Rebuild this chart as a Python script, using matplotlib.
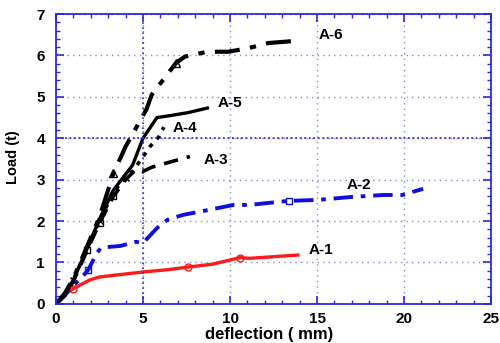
import matplotlib.pyplot as plt
from matplotlib.ticker import MultipleLocator

plt.rcParams['font.family'] = ['Liberation Sans', 'DejaVu Sans']
plt.rcParams['font.weight'] = 'bold'

# load-deflection curves per specimen
a1_x = [0, 0.3, 0.6, 1.0, 1.4, 1.95, 2.5, 3.5, 5.0, 6.5, 7.6, 9.0, 10.0, 10.6, 11.1, 12.5, 13.9]
a1_y = [0, 0.12, 0.27, 0.37, 0.46, 0.58, 0.65, 0.7, 0.77, 0.83, 0.89, 0.96, 1.06, 1.12, 1.1, 1.14, 1.18]

a2_x = [0, 0.5, 1.0, 1.5, 1.85, 2.35, 2.6, 3.7, 4.6, 5.0, 5.8, 6.4, 7.3, 8.3, 10.2, 11.1, 13.4, 15.0, 16.9, 18.8, 19.9, 21.1]
a2_y = [0, 0.2, 0.45, 0.65, 0.82, 1.23, 1.36, 1.4, 1.5, 1.47, 1.83, 2.03, 2.15, 2.23, 2.39, 2.39, 2.49, 2.51, 2.58, 2.63, 2.63, 2.78]

a3_x = [0, 0.5, 1.0, 1.8, 2.5, 3.3, 4.0, 4.6, 5.0, 5.5, 6.5, 7.7]
a3_y = [0, 0.2, 0.55, 1.3, 1.95, 2.6, 3.0, 3.25, 3.2, 3.3, 3.42, 3.56]

a4_x = [0, 0.5, 1.0, 1.8, 2.5, 3.3, 4.0, 4.4, 5.0, 5.4, 5.9, 6.2]
a4_y = [0, 0.22, 0.58, 1.35, 2.0, 2.7, 3.05, 3.2, 3.55, 3.8, 4.03, 4.27]

a5_x = [0, 0.5, 1.0, 1.8, 2.5, 3.3, 4.4, 5.0, 5.8, 6.6, 7.6, 8.7]
a5_y = [0, 0.22, 0.58, 1.35, 2.05, 2.75, 3.35, 4.0, 4.5, 4.55, 4.62, 4.73]

a6_x = [0, 0.5, 1.0, 1.8, 2.5, 3.3, 4.0, 4.4, 5.2, 5.5, 6.5, 6.9, 7.4, 7.7, 8.7, 9.9, 11.1, 12.2, 13.7]
a6_y = [0, 0.25, 0.62, 1.4, 2.1, 3.15, 3.8, 4.1, 4.7, 5.05, 5.6, 5.82, 5.97, 6.0, 6.09, 6.09, 6.18, 6.3, 6.35]

labels = ['A-1', 'A-2', 'A-3', 'A-4', 'A-5', 'A-6']
label_pos = [(14.5, 1.3), (16.7, 2.87), (8.5, 3.48), (6.7, 4.25), (9.3, 4.85), (15.1, 6.5)]

fig = plt.figure(figsize=(5, 3.43), dpi=100)
ax = fig.add_axes([0.112, 0.114, 0.87, 0.845])

ax.plot(a1_x, a1_y, color='#ff1a1a', lw=2.4, marker='o', mfc='none', ms=5, markevery=[3, 10, 13])
ax.plot(a2_x, a2_y, color='#1010dd', lw=2.8, ls=(0, (5, 2, 1.2, 2)), marker='s', mfc='none', ms=5, markevery=[4, 16])
ax.plot(a3_x, a3_y, color='black', lw=2.6, ls=(0, (4, 2.5)), marker='s', mfc='none', ms=4, markevery=[3, 4, 5])
ax.plot(a4_x, a4_y, color='black', lw=2.6, ls=(0, (1.2, 1.8)), marker='x', ms=5, markevery=[2, 4, 6])
ax.plot(a5_x, a5_y, color='black', lw=2.4)
ax.plot(a6_x, a6_y, color='black', lw=3.0, ls=(0, (6, 2.5, 1.5, 2.5)), marker='^', mfc='none', ms=6, markevery=[5, 11])

for lab, (lx, ly) in zip(labels, label_pos):
    ax.text(lx, ly, lab, fontsize=11, fontweight='bold', va='center')

ax.set_xlim(0, 25)
ax.set_ylim(0, 7)
ax.xaxis.set_major_locator(MultipleLocator(5))
ax.xaxis.set_minor_locator(MultipleLocator(1))
ax.yaxis.set_major_locator(MultipleLocator(1))
ax.yaxis.set_minor_locator(MultipleLocator(0.2))
ax.tick_params(which='both', direction='in', top=True, right=True, colors='#2a2ae0', labelcolor='black', labelsize=11)
ax.tick_params(which='major', length=6, width=1.2)
ax.tick_params(which='minor', length=3, width=1)
ax.tick_params(axis='x', pad=6)
ax.tick_params(axis='y', pad=8)
for s in ax.spines.values():
    s.set_color('#2a2ae0')
    s.set_linewidth(1.3)

ax.grid(True, which='major', color='#8888dd', ls=(0, (1, 3)), lw=1)
ax.axvline(5, color='#3030e0', ls=(0, (1, 2)), lw=1.2)
ax.axhline(4, color='#3030e0', ls=(0, (1, 1.5)), lw=1.3)

ax.set_xlabel('deflection ( mm)', fontsize=12, fontweight='bold')
ax.xaxis.set_label_coords(0.49, -0.08)
ax.set_ylabel('Load (t)', fontsize=10.5, fontweight='bold')
ax.yaxis.set_label_coords(-0.083, 0.507)

fig.savefig('out.png', dpi=100)
